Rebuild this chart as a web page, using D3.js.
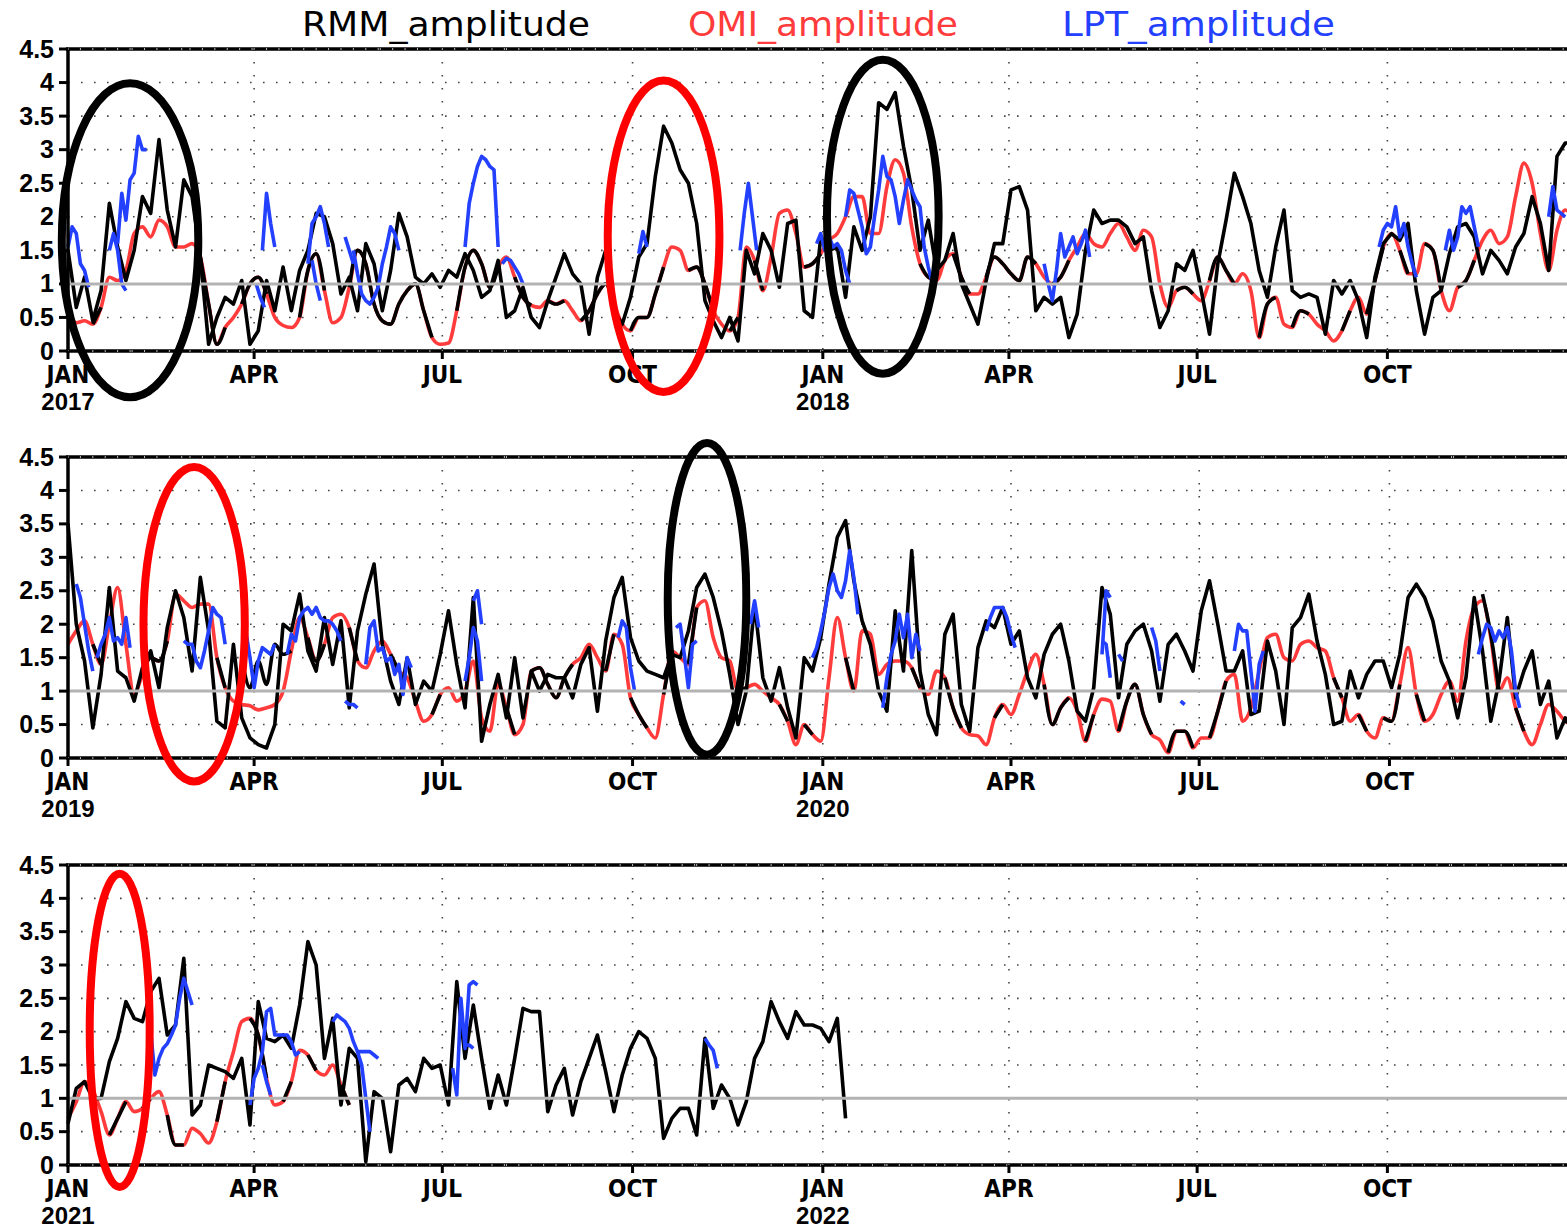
<!DOCTYPE html>
<html>
<head>
<meta charset="utf-8">
<script src="https://cdn.jsdelivr.net/npm/d3@7"></script>
<style>
  body { margin: 0; background: #fff; }
  svg { display: block; }
</style>
</head>
<body>
<div id="chart"></div>
<script>
const _ = null;

// Data
const panelStarts = ["2017-01-01", "2019-01-01", "2021-01-01"];
const STEP = 4;      // days between samples of the RMM / OMI series
const LPT_STEP = 2;  // days between samples inside an LPT track
const quarterNames = ["JAN", "APR", "JUL", "OCT"];
const yTicks = [0, 0.5, 1, 1.5, 2, 2.5, 3, 3.5, 4, 4.5];
const legendLabels = ["RMM_amplitude", "OMI_amplitude", "LPT_amplitude"];

const rmm2017 = [
  1.5, 0.65, 1.1, 0.45, 0.9, 2.2, 1.55, 1.05, 1.5, 2.3,
  2.05, 3.15, 2.1, 1.55, 2.55, 2.3, 1.4, 0.1, 0.5, 0.8,
  0.7, 1.05, 0.1, 0.3, 1.05, 0.6, 1.25, 0.6, 1.2, 1.5,
  2.05, 2.0, 1.6, 0.85, 1.1, 0.6, 1.6, 1.3, 0.6, 1.2,
  2.05, 1.7, 1.1, 1.0, 1.15, 0.95, 1.2, 1.1, 1.45, 1.2,
  0.8, 0.9, 1.35, 0.5, 0.6, 0.95, 0.5, 0.35, 0.75, 1.1,
  1.45, 1.15, 1.0, 0.25, 1.1, 1.5, 0.6, 0.4, 0.8, 1.4,
  1.6, 2.6, 3.35, 3.1, 2.7, 2.5, 1.9, 0.75, 0.45, 0.2,
  0.5, 0.15, 1.5, 1.15, 1.75, 1.5, 0.95, 1.9, 1.95, 0.6,
  0.5, 1.7, 1.5, 1.55, 0.8, 1.85, 1.5, 2.0, 3.7, 3.6,
  3.85, 3.05, 2.4, 1.5, 1.95, 1.2, 1.35, 1.75, 1.0, 0.7,
  0.4, 1.05, 1.6, 1.6, 2.4, 2.45, 2.1, 0.6, 0.8, 0.7,
  0.8, 0.2, 0.55, 1.5, 2.1, 1.9, 1.95, 1.95, 1.85, 1.6,
  1.7, 0.9, 0.35, 0.6, 1.3, 1.2, 1.5, 0.9, 0.25, 1.3,
  1.95, 2.65, 2.3, 1.9, 1.2, 0.8, 1.55, 2.1, 0.9, 0.8,
  0.85, 0.8, 0.25, 1.05, 0.85, 1.05, 0.75, 0.2, 1.1, 1.6,
  1.75, 1.65, 1.9, 0.9, 0.25, 0.8, 0.9, 1.45, 1.85, 1.9,
  1.7, 1.15, 1.5, 1.35, 1.15, 1.55, 1.75, 2.3, 1.9, 1.2,
  2.9, 3.1, 3.1
];
const rmm2019 = [
  3.5, 2.0, 1.45, 0.45, 1.25, 2.55, 1.3, 1.2, 0.85, 1.35,
  1.6, 1.05, 1.95, 2.5, 2.1, 1.3, 2.7, 1.9, 0.55, 0.45,
  1.7, 0.6, 0.3, 0.2, 0.15, 0.5, 2.0, 1.9, 2.45, 1.6,
  1.3, 2.1, 1.4, 2.05, 0.75, 1.9, 2.45, 2.9, 1.7, 1.15,
  0.8, 1.5, 0.8, 1.15, 1.0, 1.55, 2.2, 1.4, 0.75, 2.4,
  0.25, 0.8, 1.25, 0.6, 1.5, 0.6, 1.3, 1.0, 1.25, 1.2,
  1.2, 0.9, 1.4, 1.65, 0.7, 1.75, 2.4, 2.7, 1.8, 1.45,
  1.3, 1.25, 1.2, 1.55, 1.5, 1.9, 2.55, 2.75, 2.4, 1.9,
  1.25, 0.5, 1.0, 2.3, 1.2, 0.85, 1.35, 0.75, 0.3, 1.5,
  1.3, 1.8, 2.6, 3.3, 3.55, 2.65, 2.05, 1.7, 1.0, 0.7,
  2.2, 1.3, 3.1, 1.3, 0.65, 0.35, 1.85, 2.15, 0.8, 0.4,
  1.65, 2.05, 1.95, 2.25, 1.7, 1.9, 1.2, 0.9, 1.55, 1.85,
  2.0, 1.45, 0.7, 0.55, 1.05, 2.55, 2.15, 0.9, 1.7, 1.9,
  2.0, 1.6, 0.85, 1.7, 1.85, 1.6, 1.3, 2.2, 2.65, 2.0,
  1.3, 1.3, 1.6, 0.65, 0.7, 1.75, 1.3, 0.5, 1.95, 2.1,
  2.45, 1.75, 1.25, 0.5, 0.55, 1.3, 0.9, 1.25, 1.45, 1.45,
  1.05, 1.55, 2.4, 2.6, 2.4, 2.05, 1.45, 1.15, 0.6, 1.2,
  2.4, 1.6, 0.55, 1.15, 2.1, 0.9, 1.3, 1.6, 0.8, 1.15,
  0.3, 0.6, 0.5
];
const rmm2021 = [
  0.62, 1.15, 1.25, 1.0, 1.0, 1.55, 1.9, 2.45, 2.2, 2.15,
  2.6, 2.8, 1.95, 2.1, 3.1, 0.75, 0.9, 1.5, 1.45, 1.4,
  1.3, 1.6, 0.6, 2.45, 1.9, 1.85, 1.95, 1.75, 2.4, 3.35,
  3.0, 1.6, 2.2, 0.9, 1.75, 1.6, 0.05, 1.1, 1.0, 0.2,
  1.2, 1.3, 1.1, 1.6, 1.45, 1.5, 0.9, 2.75, 1.6, 2.4,
  1.6, 0.85, 1.35, 0.9, 1.6, 2.35, 2.3, 2.3, 0.8, 1.2,
  1.45, 0.75, 1.25, 1.6, 1.95, 1.4, 0.8, 1.35, 1.75, 2.0,
  1.9, 1.6, 0.4, 0.7, 0.85, 0.85, 0.45, 1.9, 0.85, 1.2,
  1.0, 0.6, 0.95, 1.6, 1.85, 2.45, 2.15, 1.9, 2.3, 2.1,
  2.1, 2.05, 1.85, 2.2, 0.7
];

const omi2017 = [
  0.6, 0.42, 0.45, 0.4, 0.65, 1.1, 1.05, 1.2, 1.75, 1.85,
  1.7, 1.95, 1.85, 1.55, 1.55, 1.6, 1.4, 0.7, 0.1, 0.35,
  0.5, 0.7, 1.0, 1.1, 0.85, 0.5, 0.38, 0.35, 0.5, 1.2,
  1.45, 0.9, 0.42, 0.5, 0.95, 1.5, 1.3, 0.7, 0.45, 0.4,
  0.7, 0.9, 1.0, 0.6, 0.2, 0.1, 0.12, 0.6, 1.25, 1.5,
  1.3, 0.95, 1.25, 1.4, 1.1, 0.8, 0.68, 0.65, 0.75, 0.7,
  0.75, 0.6, 0.45, 0.6, 0.85, 1.0, 0.7, 0.4, 0.3, 0.5,
  0.5, 0.85, 1.25, 1.55, 1.5, 1.2, 1.25, 1.0, 0.6, 0.4,
  0.3, 0.5, 1.55, 1.35, 0.9, 1.4, 2.05, 2.1, 1.75, 1.25,
  1.3, 1.45, 1.65, 1.75, 2.0, 2.3, 2.3, 1.75, 1.75, 2.45,
  2.85, 2.65, 1.85, 1.3, 1.1, 1.05, 1.35, 1.45, 1.1, 0.85,
  0.85, 1.1, 1.4, 1.3, 1.15, 1.05, 1.4, 1.3, 1.1, 1.0,
  1.1, 1.35, 1.55, 1.75, 1.6, 1.55, 1.75, 1.9, 1.7, 1.5,
  1.8, 1.7, 1.0, 0.65, 0.9, 0.95, 0.85, 0.75, 1.05, 1.4,
  1.2, 1.0, 1.15, 0.9, 0.2, 0.7, 0.8, 0.4, 0.35, 0.6,
  0.55, 0.4, 0.3, 0.15, 0.3, 0.6, 0.8, 0.55, 1.05, 1.55,
  1.75, 1.5, 1.15, 1.15, 1.6, 1.5, 0.9, 0.6, 0.95, 1.05,
  1.35, 1.65, 1.8, 1.6, 1.7, 2.3, 2.8, 2.5, 1.75, 1.2,
  1.8, 2.1, 2.0
];
const omi2019 = [
  1.7, 1.9, 2.05, 1.7, 1.4, 2.0, 2.55, 1.7, 0.95, 1.25,
  1.5, 1.45, 1.75, 2.45, 2.35, 2.25, 2.3, 2.3, 1.5, 1.05,
  0.85, 0.8, 0.78, 0.72, 0.75, 0.8, 1.0, 1.6, 2.1, 1.8,
  1.45, 1.7, 2.1, 2.15, 1.95, 1.45, 1.35, 1.6, 1.75, 1.55,
  1.3, 1.2, 0.85, 0.55, 0.65, 0.95, 1.05, 0.85, 1.0, 1.45,
  0.6, 0.4, 1.1, 0.75, 0.35, 0.5, 1.3, 1.35, 1.1, 0.9,
  1.2, 1.4, 1.5, 1.7, 1.5, 1.3, 1.85, 1.7, 0.9, 0.65,
  0.45, 0.3, 0.95, 1.6, 1.5, 1.4, 2.25, 2.35, 1.8, 1.5,
  1.45, 1.0, 1.05, 1.1, 1.0, 0.9, 0.8, 0.55, 0.2, 0.5,
  0.35, 0.25, 1.2, 2.1, 1.5, 1.0, 1.9, 1.85, 1.25, 1.4,
  1.45, 1.45, 1.35, 1.05, 0.95, 1.3, 1.2, 0.75, 0.45, 0.35,
  0.33, 0.2, 0.6, 0.8, 0.65, 0.95, 1.3, 1.55, 1.1, 0.5,
  0.75, 0.9, 0.7, 0.25, 0.65, 0.88, 0.85, 0.4, 0.85, 1.1,
  0.65, 0.35, 0.27, 0.08, 0.4, 0.4, 0.15, 0.3, 0.3, 0.7,
  1.15, 1.25, 0.55, 0.75, 1.3, 1.8, 1.85, 1.5, 1.45, 1.7,
  1.75, 1.65, 1.6, 1.2, 0.9, 0.55, 0.65, 0.4, 0.3, 0.6,
  0.55, 1.1, 1.65, 0.95, 0.55, 0.65, 0.95, 1.15, 0.85, 1.75,
  2.25, 2.35, 1.8, 1.0, 1.2, 0.75, 0.4, 0.2, 0.5, 0.8,
  0.7, 0.55, 0.5
];
const omi2021 = [
  0.7, 0.95, 1.25, 1.12, 0.8, 0.45, 0.7, 0.95, 0.8, 0.85,
  1.0, 1.1, 0.75, 0.3, 0.3, 0.55, 0.47, 0.33, 0.65, 1.25,
  1.7, 2.15, 2.2, 1.95, 1.3, 0.9, 0.95, 1.25, 1.72, 1.65,
  1.42, 1.35, 1.5, 1.2, 0.9
];

// second (smoothed) black amplitude curve drawn over the OMI one; gaps let the red show
const smooth2017 = [
  _, _, _, 0.4, 0.65, _, _, _, _, _,
  _, _, _, _, _, _, 1.4, 0.7, 0.1, 0.35,
  _, 0.7, 1.0, 1.1, 0.85, _, _, _, 0.5, 1.2,
  1.45, 0.9, _, _, 0.95, 1.5, 1.3, 0.7, 0.45, 0.4,
  0.7, 0.9, 1.0, 0.6, 0.2, _, _, 0.6, 1.25, 1.5,
  1.3, 0.95, 1.25, _, 1.1, 0.8, 0.68, _, 0.75, 0.7,
  0.75, _, 0.45, 0.6, 0.85, 1.0, 0.7, _, 0.3, 0.5,
  0.5, 0.85, 1.25, _, _, 1.2, 1.25, 1.0, 0.6, _,
  0.3, 0.5, _, 1.35, 0.9, _, _, _, _, 1.25,
  1.3, 1.45, _, _, _, _, _, _, _, _,
  _, _, _, 1.3, 1.1, 1.05, _, 1.45, 1.1, 0.85,
  _, 1.1, 1.4, 1.3, 1.15, 1.05, 1.4, 1.3, _, 1.0,
  1.1, 1.35, _, _, _, _, _, _, _, _,
  _, _, 1.0, _, 0.9, 0.95, 0.85, _, 1.05, 1.4,
  1.2, 1.0, _, _, 0.2, 0.7, 0.8, _, 0.35, 0.6,
  0.55, _, 0.3, _, 0.3, 0.6, _, 0.55, 1.05, 1.55,
  _, 1.5, 1.15, _, 1.6, 1.5, 0.9, _, 0.95, 1.05,
  1.35, _, _, _, _, _, _, _, _, _,
  _, _, _
];
const smooth2019 = [
  _, _, _, 1.7, 1.4, _, _, 1.7, _, 1.25,
  1.5, 1.45, 1.75, _, _, _, _, _, 1.5, 1.05,
  _, 1.5, 1.05, 1.45, 1.1, 1.7, 1.55, 1.6, _, 1.8,
  1.45, 1.7, _, _, 1.95, 1.45, _, 1.6, _, 1.55,
  1.3, _, 0.85, _, 0.65, 0.95, _, 0.85, _, _,
  _, 0.4, _, 0.75, 0.35, _, 1.3, 1.35, 1.1, 0.9,
  1.2, 1.4, _, 1.7, _, 1.3, 1.85, _, 0.9, 0.65,
  0.45, _, 0.95, 1.6, _, 1.4, 2.25, _, 1.8, _,
  _, 1.0, 1.05, _, 1.0, _, 0.8, 0.55, _, 0.5,
  0.35, _, _, _, 1.5, 1.0, _, _, 1.25, _,
  1.45, _, 1.35, 1.05, _, _, 1.2, 0.75, 0.45, _,
  _, _, 0.6, 0.8, _, 0.95, _, _, 1.1, 0.5,
  0.75, 0.9, _, 0.25, 0.65, _, _, 0.4, 0.85, 1.1,
  0.65, 0.35, _, 0.08, 0.4, 0.4, 0.15, _, 0.3, 0.7,
  1.15, _, 0.55, _, 1.3, _, _, 1.5, _, _,
  _, 1.65, _, 1.2, 0.9, _, 0.65, 0.4, _, 0.6,
  0.55, 1.1, _, 0.95, 0.55, _, _, 1.15, _, _,
  _, 2.45, 1.85, 1.0, _, 0.75, 0.4, _, 0.5, _,
  _, 0.55, 0.5
];
const smooth2021 = [
  _, 0.95, _, 1.12, _, 0.45, 0.7, 0.95, _, 0.85,
  1.0, _, 0.75, 0.3, 0.3, _, 0.47, _, 0.65, 1.25,
  _, _, 2.2, 1.95, 1.3, _, 0.95, 1.25, _, 1.65,
  1.42, _, _, 1.2, 0.9
];

// LPT tracks: [first day, values every LPT_STEP days]
const lpt2017 = [
  ["2017-01-01", [1.55, 1.85, 1.75, 1.3, 1.2, 0.95]],
  ["2017-01-21", [1.5, 1.75, 1.5, 1.0, 0.9]],
  ["2017-01-25", [1.6, 2.35, 1.95, 2.55, 2.65, 3.2, 3.0, 3.0]],
  ["2017-04-02", [1.0, 0.8, 0.65]],
  ["2017-04-05", [1.5, 2.35, 1.9, 1.55]],
  ["2017-04-27", [1.3, 1.9, 2.0, 2.15, 1.9, 1.55]],
  ["2017-04-29", [1.35, 1.0, 0.75]],
  ["2017-05-15", [1.7, 1.5, 1.3]],
  ["2017-05-19", [1.5, 1.15, 0.85, 0.75, 0.7, 0.8, 0.95, 1.3, 1.55, 1.85, 1.75, 1.5]],
  ["2017-07-12", [1.55, 2.2, 2.5, 2.75, 2.9, 2.85, 2.75, 2.7, 1.55]],
  ["2017-07-30", [1.3, 1.38, 1.35, 1.25, 1.15, 1.0]],
  ["2017-10-04", [1.45, 1.78, 1.55]],
  ["2017-11-22", [1.5, 2.05, 2.5, 2.0, 1.5]],
  ["2017-12-29", [1.6, 1.75, 1.5, 1.7, 1.55, 1.6, 1.5, 1.2, 1.0]],
  ["2018-01-12", [2.0, 2.4, 2.35, 2.1, 1.85, 1.45, 1.55, 2.0, 2.4, 2.9, 2.6, 2.55, 2.3, 1.9, 2.25, 2.55, 2.4, 2.25, 2.15, 1.55, 1.25, 1.0]],
  ["2018-04-18", [1.3, 1.0, 0.75, 1.2, 1.75, 1.4, 1.55, 1.7, 1.45, 1.6, 1.8, 1.4]],
  ["2018-09-27", [1.55, 1.8, 1.9, 1.85, 2.15, 1.7, 1.9, 1.55, 1.3, 1.1]],
  ["2018-10-29", [1.5, 1.8, 1.5, 1.7, 2.15, 2.05, 2.15, 1.85, 1.55]],
  ["2018-12-18", [2.0, 2.45, 2.1, 2.05, 2.0]]
];
const lpt2019 = [
  ["2019-01-05", [2.6, 2.4, 2.0, 1.6, 1.3]],
  ["2019-01-15", [1.5, 1.7, 1.85, 2.1, 1.75, 1.8, 1.7, 2.1, 1.65]],
  ["2019-02-26", [1.75, 1.7, 1.7, 1.45, 1.35, 1.6, 1.9, 2.25, 2.15, 2.1, 1.7]],
  ["2019-03-28", [1.9, 1.5, 1.05, 1.45, 1.65, 1.6, 1.55, 1.7]],
  ["2019-04-17", [1.55, 1.85, 1.75, 2.1, 2.2, 2.25, 2.15, 2.25, 2.1, 2.05, 2.05, 2.0, 1.9, 1.75]],
  ["2019-05-15", [0.85, 0.8, 0.8, 0.75]],
  ["2019-05-25", [1.4, 1.95, 2.05, 1.6, 1.65, 1.45, 1.5, 1.25, 1.4, 0.95, 1.5, 1.35]],
  ["2019-07-12", [1.15, 1.5, 1.95, 1.75, 1.15]],
  ["2019-07-16", [2.35, 2.5, 2.0]],
  ["2019-09-24", [1.8, 2.05, 1.95, 1.35, 1.0]],
  ["2019-10-22", [1.95, 2.0, 1.55, 1.05, 1.7, 1.75]],
  ["2019-11-27", [2.0, 2.35, 1.95]],
  ["2019-12-27", [1.5, 1.65, 1.9, 2.2, 2.55, 2.75, 2.5, 2.4, 2.65, 3.1, 2.7, 2.15]],
  ["2020-01-30", [0.75, 1.2, 1.55, 1.75, 2.15, 1.8, 2.15, 1.5, 1.85, 1.6]],
  ["2020-03-20", [1.9, 2.1, 2.25, 2.25, 2.25, 2.1, 1.85, 1.65]],
  ["2020-05-15", [1.55, 2.5, 2.4]],
  ["2020-05-15", [1.75, 1.7, 1.2]],
  ["2020-05-23", [1.55, 1.45]],
  ["2020-06-08", [1.95, 1.75, 1.3]],
  ["2020-06-22", [0.85, 0.8]],
  ["2020-07-18", [1.6, 2.0, 1.9, 1.9, 1.3, 0.7, 1.4, 1.6]],
  ["2020-11-13", [1.55, 1.8, 2.0, 1.95, 1.75, 1.9, 1.8, 1.95, 1.6, 1.0, 0.75]]
];
const lpt2021 = [
  ["2021-02-10", [2.0, 1.35, 1.6, 1.75, 1.82, 1.95, 2.1, 2.5, 2.8, 2.6, 2.4]],
  ["2021-03-30", [0.9, 1.3, 1.45, 1.7, 2.3, 2.35, 1.95, 1.95, 1.95, 1.95, 1.85, 1.65, 1.7]],
  ["2021-04-05", [1.5, 1.25, 1.05]],
  ["2021-05-09", [2.15, 2.25, 2.2, 2.15, 2.05, 1.85, 1.7, 1.5, 1.0, 0.5]],
  ["2021-05-21", [1.7, 1.7, 1.7, 1.7, 1.65, 1.6]],
  ["2021-07-06", [1.45, 1.05, 2.5, 1.75, 2.7, 2.75, 2.7]],
  ["2021-07-12", [1.8, 1.8, 1.75]],
  ["2021-11-05", [1.9, 1.8, 1.72, 1.45]]
];

// highlighted events: centre date/amplitude and half extents (days, amplitude)
const highlights = [
  { panel: 0, index: "RMM", date: "2017-01-31", value: 1.65, halfDays: 33, halfValue: 2.34 },
  { panel: 0, index: "OMI", date: "2017-10-16", value: 1.71, halfDays: 27, halfValue: 2.32 },
  { panel: 0, index: "RMM", date: "2018-01-30", value: 2.0, halfDays: 27, halfValue: 2.34 },
  { panel: 1, index: "OMI", date: "2019-03-03", value: 2.0, halfDays: 24.5, halfValue: 2.35 },
  { panel: 1, index: "RMM", date: "2019-11-06", value: 2.38, halfDays: 19, halfValue: 2.33 },
  { panel: 2, index: "OMI", date: "2021-01-26", value: 2.02, halfDays: 14.5, halfValue: 2.35 }
];

const rmmSeries = [rmm2017, rmm2019, rmm2021];
const omiSeries = [omi2017, omi2019, omi2021];
const smoothSeries = [smooth2017, smooth2019, smooth2021];
const lptSeries = [lpt2017, lpt2019, lpt2021];

function draw() {
  const width = 1567;
  const height = 1229;
  const left = 68;
  const pxPerDay = 2.068;
  const lineW = 3.6;
  const panels = [
    { top: 49, bottom: 351 },
    { top: 457, bottom: 758 },
    { top: 865, bottom: 1165 }
  ];
  const colors = { RMM: "#000000", OMI: "#ff3b3b", LPT: "#2340ff" };
  const ringColors = { RMM: "#000000", OMI: "#ff0000" };
  const parse = d3.utcParse("%Y-%m-%d");

  const svg = d3.select("#chart")
    .append("svg")
    .attr("width", width)
    .attr("height", height)
    .style("font-family", "'Liberation Sans', Arial, sans-serif");

  // Legend
  const legendX = [302, 688, 1062];
  const legendW = [288, 270, 273];
  const legendC = [colors.RMM, colors.OMI, colors.LPT];
  svg.selectAll(".legend")
    .data(legendLabels)
    .join("text")
    .attr("x", (d, i) => legendX[i])
    .attr("y", 36)
    .attr("fill", (d, i) => legendC[i])
    .attr("textLength", (d, i) => legendW[i])
    .attr("lengthAdjust", "spacingAndGlyphs")
    .style("font-family", "'DejaVu Sans', sans-serif")
    .style("font-size", "34px")
    .text(d => d);

  panels.forEach((p, k) => {
    const start = parse(panelStarts[k]);
    const end = d3.utcYear.offset(start, 2);
    const nDays = d3.utcDay.count(start, end);

    const xScale = d3.scaleUtc()
      .domain([start, end])
      .range([left, left + nDays * pxPerDay]);
    const yScale = d3.scaleLinear()
      .domain([0, 4.5])
      .range([p.bottom, p.top]);

    const g = svg.append("g");
    const quarters = d3.utcMonth.every(3).range(start, end);

    // dotted grid
    g.selectAll(".hgrid")
      .data(yTicks.filter(v => v > 0 && v < 4.5 && v !== 1))
      .join("line")
      .attr("x1", left).attr("x2", width)
      .attr("y1", d => yScale(d)).attr("y2", d => yScale(d))
      .attr("stroke", "#444").attr("stroke-width", 1.6)
      .attr("stroke-dasharray", "1.6 11.4");
    g.selectAll(".vgrid")
      .data(quarters.slice(1))
      .join("line")
      .attr("x1", d => xScale(d)).attr("x2", d => xScale(d))
      .attr("y1", p.top).attr("y2", p.bottom)
      .attr("stroke", "#444").attr("stroke-width", 1.6)
      .attr("stroke-dasharray", "1.6 11.4");

    const toPoints = (values, first, step) =>
      values.map((v, i) => ({ date: d3.utcDay.offset(first, i * step), value: v }));

    const smoothLine = d3.line()
      .defined(d => d.value !== null)
      .x(d => xScale(d.date))
      .y(d => yScale(d.value))
      .curve(d3.curveMonotoneX);
    const rawLine = d3.line()
      .defined(d => d.value !== null)
      .x(d => xScale(d.date))
      .y(d => yScale(d.value));

    // OMI (red) underneath, the smoothed black curve on top of it
    g.append("path")
      .datum(toPoints(omiSeries[k], start, STEP))
      .attr("d", smoothLine)
      .attr("fill", "none")
      .attr("stroke", colors.OMI)
      .attr("stroke-width", lineW)
      .attr("stroke-linejoin", "round");
    g.append("path")
      .datum(toPoints(smoothSeries[k], start, STEP))
      .attr("d", smoothLine)
      .attr("fill", "none")
      .attr("stroke", colors.RMM)
      .attr("stroke-width", lineW)
      .attr("stroke-linejoin", "round");

    // RMM
    g.append("path")
      .datum(toPoints(rmmSeries[k], start, STEP))
      .attr("d", rawLine)
      .attr("fill", "none")
      .attr("stroke", colors.RMM)
      .attr("stroke-width", lineW)
      .attr("stroke-linejoin", "round");

    // LPT tracks
    g.selectAll(".lpt")
      .data(lptSeries[k])
      .join("path")
      .attr("d", d => rawLine(toPoints(d[1], parse(d[0]), LPT_STEP)))
      .attr("fill", "none")
      .attr("stroke", colors.LPT)
      .attr("stroke-width", lineW)
      .attr("stroke-linejoin", "round");

    // amplitude = 1 reference line
    g.append("line")
      .attr("x1", left).attr("x2", width)
      .attr("y1", yScale(1)).attr("y2", yScale(1))
      .attr("stroke", "#b3b3b3").attr("stroke-width", 3);

    // frame and axes
    g.append("line")
      .attr("x1", left - 2).attr("x2", width)
      .attr("y1", p.top).attr("y2", p.top)
      .attr("stroke", "#000").attr("stroke-width", 3.5);
    g.append("line")
      .attr("x1", left - 2).attr("x2", width)
      .attr("y1", p.bottom).attr("y2", p.bottom)
      .attr("stroke", "#000").attr("stroke-width", 3.5);
    g.append("line")
      .attr("x1", left).attr("x2", left)
      .attr("y1", p.top).attr("y2", p.bottom)
      .attr("stroke", "#000").attr("stroke-width", 3.5);

    // minor ticks along the top and bottom edges
    const minor = d3.utcDay.every(6).range(start, end);
    g.selectAll(".minorb")
      .data(minor)
      .join("line")
      .attr("x1", d => xScale(d)).attr("x2", d => xScale(d))
      .attr("y1", p.bottom - 1).attr("y2", p.bottom + 1)
      .attr("stroke", "#bbb").attr("stroke-width", 1);
    g.selectAll(".minort")
      .data(minor)
      .join("line")
      .attr("x1", d => xScale(d)).attr("x2", d => xScale(d))
      .attr("y1", p.top - 1).attr("y2", p.top + 1)
      .attr("stroke", "#bbb").attr("stroke-width", 1);

    // y ticks and labels
    g.selectAll(".ytick")
      .data(yTicks)
      .join("line")
      .attr("x1", left - 9).attr("x2", left)
      .attr("y1", d => yScale(d)).attr("y2", d => yScale(d))
      .attr("stroke", "#000").attr("stroke-width", 3);
    g.selectAll(".ylab")
      .data(yTicks)
      .join("text")
      .attr("x", left - 14)
      .attr("y", d => yScale(d))
      .attr("dy", "0.34em")
      .attr("text-anchor", "end")
      .style("font-size", "25px")
      .style("font-weight", "bold")
      .text(d => d);

    // quarter ticks, month and year labels
    g.selectAll(".xtick")
      .data(quarters)
      .join("line")
      .attr("x1", d => xScale(d)).attr("x2", d => xScale(d))
      .attr("y1", p.bottom).attr("y2", p.bottom + 8)
      .attr("stroke", "#000").attr("stroke-width", 3);
    g.selectAll(".xlab")
      .data(quarters)
      .join("text")
      .attr("x", d => xScale(d))
      .attr("y", p.bottom + 32)
      .attr("text-anchor", "middle")
      .style("font-family", "'Liberation Sans Narrow', 'DejaVu Sans Condensed', sans-serif")
      .style("font-size", "24px")
      .style("font-weight", "bold")
      .text(d => quarterNames[d.getUTCMonth() / 3]);
    g.selectAll(".yearlab")
      .data(quarters.filter(d => d.getUTCMonth() === 0))
      .join("text")
      .attr("x", d => xScale(d))
      .attr("y", p.bottom + 59)
      .attr("text-anchor", "middle")
      .style("font-size", "24px")
      .style("font-weight", "bold")
      .text(d => d.getUTCFullYear());

    // highlighted events
    g.selectAll(".ring")
      .data(highlights.filter(h => h.panel === k))
      .join("ellipse")
      .attr("cx", d => xScale(parse(d.date)))
      .attr("cy", d => yScale(d.value))
      .attr("rx", d => d.halfDays * pxPerDay)
      .attr("ry", d => yScale(0) - yScale(d.halfValue))
      .attr("fill", "none")
      .attr("stroke", d => ringColors[d.index])
      .attr("stroke-width", 8);
  });
}

draw();
</script>
</body>
</html>
